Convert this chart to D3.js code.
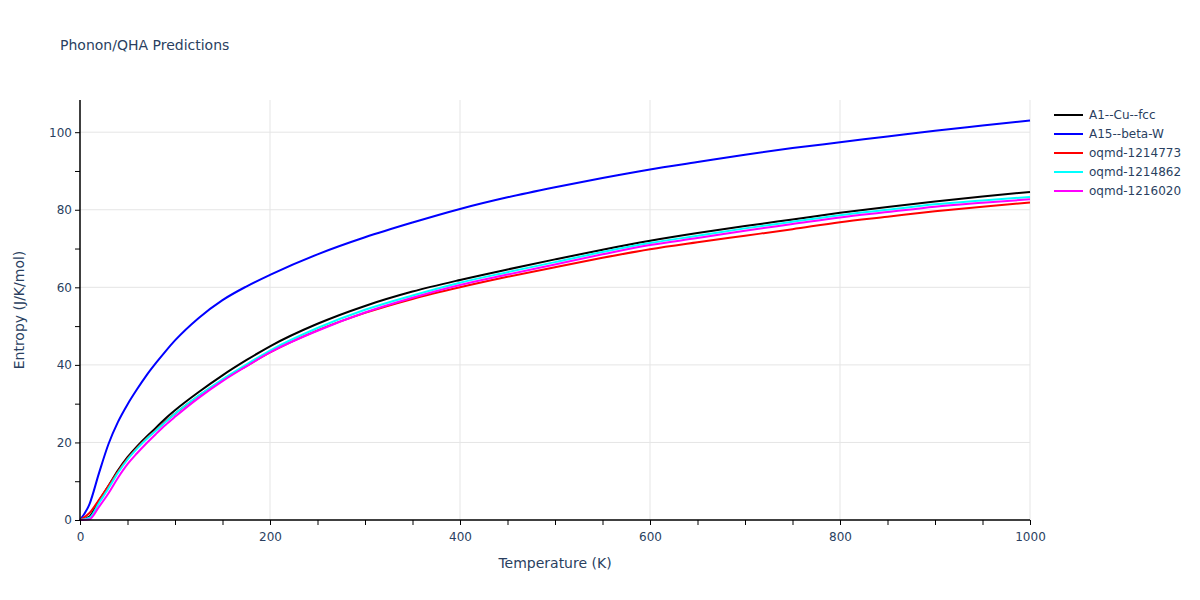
<!DOCTYPE html>
<html lang="en">
<head>
<meta charset="UTF-8">
<script src="https://d3js.org/d3.v7.min.js"></script>
<title>Phonon/QHA Predictions</title>
<style>
  body { margin: 0; background: #fff; }
  svg text { font-family: "DejaVu Sans", Verdana, sans-serif; fill: #2a3f5f; }
</style>
</head>
<body>
<div id="draw_here"></div>
<script>
var width = 1200;
var height = 600;
var margin = {top: 100, right: 170, bottom: 80, left: 80};

// temperatures (K)
var temps = [0, 10, 20, 30, 40, 50, 60, 70, 80, 90, 100, 125, 150, 175, 200, 250, 300, 350,
             400, 450, 500, 550, 600, 650, 700, 750, 800, 850, 900, 950, 1000];

// entropy (J/K/mol)
var cuFcc   = [0, 0.9, 5.0, 8.8, 12.8, 16.2, 19.0, 21.5, 23.8, 26.2, 28.3, 33.0, 37.3, 41.2, 44.8, 50.6, 55.2, 58.9,
               61.9, 64.6, 67.2, 69.7, 72.0, 74.0, 75.8, 77.5, 79.2, 80.7, 82.1, 83.4, 84.6];
var betaW   = [0, 4.1, 12.1, 19.6, 25.3, 29.8, 33.7, 37.3, 40.5, 43.5, 46.3, 52.1, 56.7, 60.2, 63.2, 68.5, 72.9, 76.7,
               80.2, 83.2, 85.8, 88.2, 90.4, 92.3, 94.2, 95.9, 97.4, 98.9, 100.4, 101.7, 103.0];
var oq773   = [0, 1.8, 5.2, 8.8, 12.5, 15.8, 18.6, 21.0, 23.2, 25.4, 27.4, 32.0, 36.1, 39.7, 43.2, 48.9, 53.4, 57.0,
               60.0, 62.7, 65.2, 67.6, 69.8, 71.6, 73.3, 75.0, 76.8, 78.2, 79.6, 80.8, 81.9];
var oq862   = [0, 0.6, 4.4, 8.2, 12.2, 15.6, 18.4, 20.9, 23.1, 25.3, 27.4, 32.1, 36.3, 40.1, 43.7, 49.5, 54.2, 57.9,
               61.2, 63.9, 66.5, 69.1, 71.4, 73.3, 75.2, 76.9, 78.6, 80.0, 81.4, 82.4, 83.3];
var oq020   = [0, 0.2, 3.4, 6.9, 10.9, 14.4, 17.2, 19.8, 22.2, 24.5, 26.6, 31.5, 35.8, 39.6, 43.2, 48.8, 53.5, 57.3,
               60.6, 63.3, 65.9, 68.5, 70.9, 72.7, 74.6, 76.3, 78.0, 79.4, 80.8, 81.8, 82.7];

var seriesNames = ["A1--Cu--fcc", "A15--beta-W", "oqmd-1214773", "oqmd-1214862", "oqmd-1216020"];
var seriesColors = ["black", "blue", "red", "cyan", "magenta"];
var seriesValues = [cuFcc, betaW, oq773, oq862, oq020];

var xTicks = [0, 200, 400, 600, 800, 1000];
var yTicks = [0, 20, 40, 60, 80, 100];

var svg = d3.select("#draw_here")
    .append("svg")
    .attr("width", width)
    .attr("height", height);

var x = d3.scaleLinear()
    .domain([0, 1000])
    .range([margin.left, width - margin.right]);

var y = d3.scaleLinear()
    .domain([0, 108.3])
    .range([height - margin.bottom, margin.top]);

// grid
svg.append("g")
    .selectAll("line")
    .data(xTicks.slice(1))
    .join("line")
    .attr("x1", d => x(d)).attr("x2", d => x(d))
    .attr("y1", margin.top).attr("y2", height - margin.bottom)
    .attr("stroke", "#e5e5e5").attr("stroke-width", 1);

svg.append("g")
    .selectAll("line")
    .data(yTicks.slice(1))
    .join("line")
    .attr("x1", margin.left).attr("x2", width - margin.right)
    .attr("y1", d => y(d)).attr("y2", d => y(d))
    .attr("stroke", "#e5e5e5").attr("stroke-width", 1);

// lines
var line = d3.line()
    .x((d, i) => x(temps[i]))
    .y(d => y(d))
    .curve(d3.curveMonotoneX);

svg.append("g")
    .selectAll("path")
    .data(seriesValues)
    .join("path")
    .attr("fill", "none")
    .attr("stroke", (d, i) => seriesColors[i])
    .attr("stroke-width", 2)
    .attr("stroke-linejoin", "round")
    .attr("d", line);

// axes
var xAxis = svg.append("g")
    .attr("transform", `translate(0,${height - margin.bottom})`)
    .call(d3.axisBottom(x).tickValues(d3.range(0, 1001, 50)).tickSize(5)
        .tickFormat(d => xTicks.includes(d) ? d : ""));

var yAxis = svg.append("g")
    .attr("transform", `translate(${margin.left},0)`)
    .call(d3.axisLeft(y).tickValues(d3.range(0, 101, 10)).tickSize(5)
        .tickFormat(d => yTicks.includes(d) ? d : ""));

[xAxis, yAxis].forEach(g => {
    g.select(".domain").attr("stroke", "black").attr("stroke-width", 1.5);
    g.selectAll(".tick line").attr("stroke", "black");
    g.selectAll(".tick text").style("font-size", "12px").attr("fill", "#2a3f5f");
});
xAxis.selectAll(".tick text").attr("dy", "1.1em");
yAxis.select(".domain").attr("d", `M0,${height - margin.bottom}V${margin.top}`);
xAxis.select(".domain").attr("d", `M${margin.left},0H${width - margin.right}`);

// titles
svg.append("text")
    .attr("x", 60).attr("y", 50)
    .style("font-size", "14px")
    .text("Phonon/QHA Predictions");

svg.append("text")
    .attr("x", (margin.left + width - margin.right) / 2)
    .attr("y", 568)
    .attr("text-anchor", "middle")
    .style("font-size", "14px")
    .text("Temperature (K)");

svg.append("text")
    .attr("transform", `translate(24,${(margin.top + height - margin.bottom) / 2}) rotate(-90)`)
    .attr("text-anchor", "middle")
    .style("font-size", "14px")
    .text("Entropy (J/K/mol)");

// legend
var legend = svg.append("g")
    .attr("transform", "translate(1054,115)");

var items = legend.selectAll("g")
    .data(seriesNames)
    .join("g")
    .attr("transform", (d, i) => `translate(0,${i * 19})`);

items.append("line")
    .attr("x1", 0).attr("x2", 29)
    .attr("stroke", (d, i) => seriesColors[i])
    .attr("stroke-width", 2);

items.append("text")
    .attr("x", 35).attr("y", 4)
    .style("font-size", "12px")
    .text(d => d);
</script>
</body>
</html>
